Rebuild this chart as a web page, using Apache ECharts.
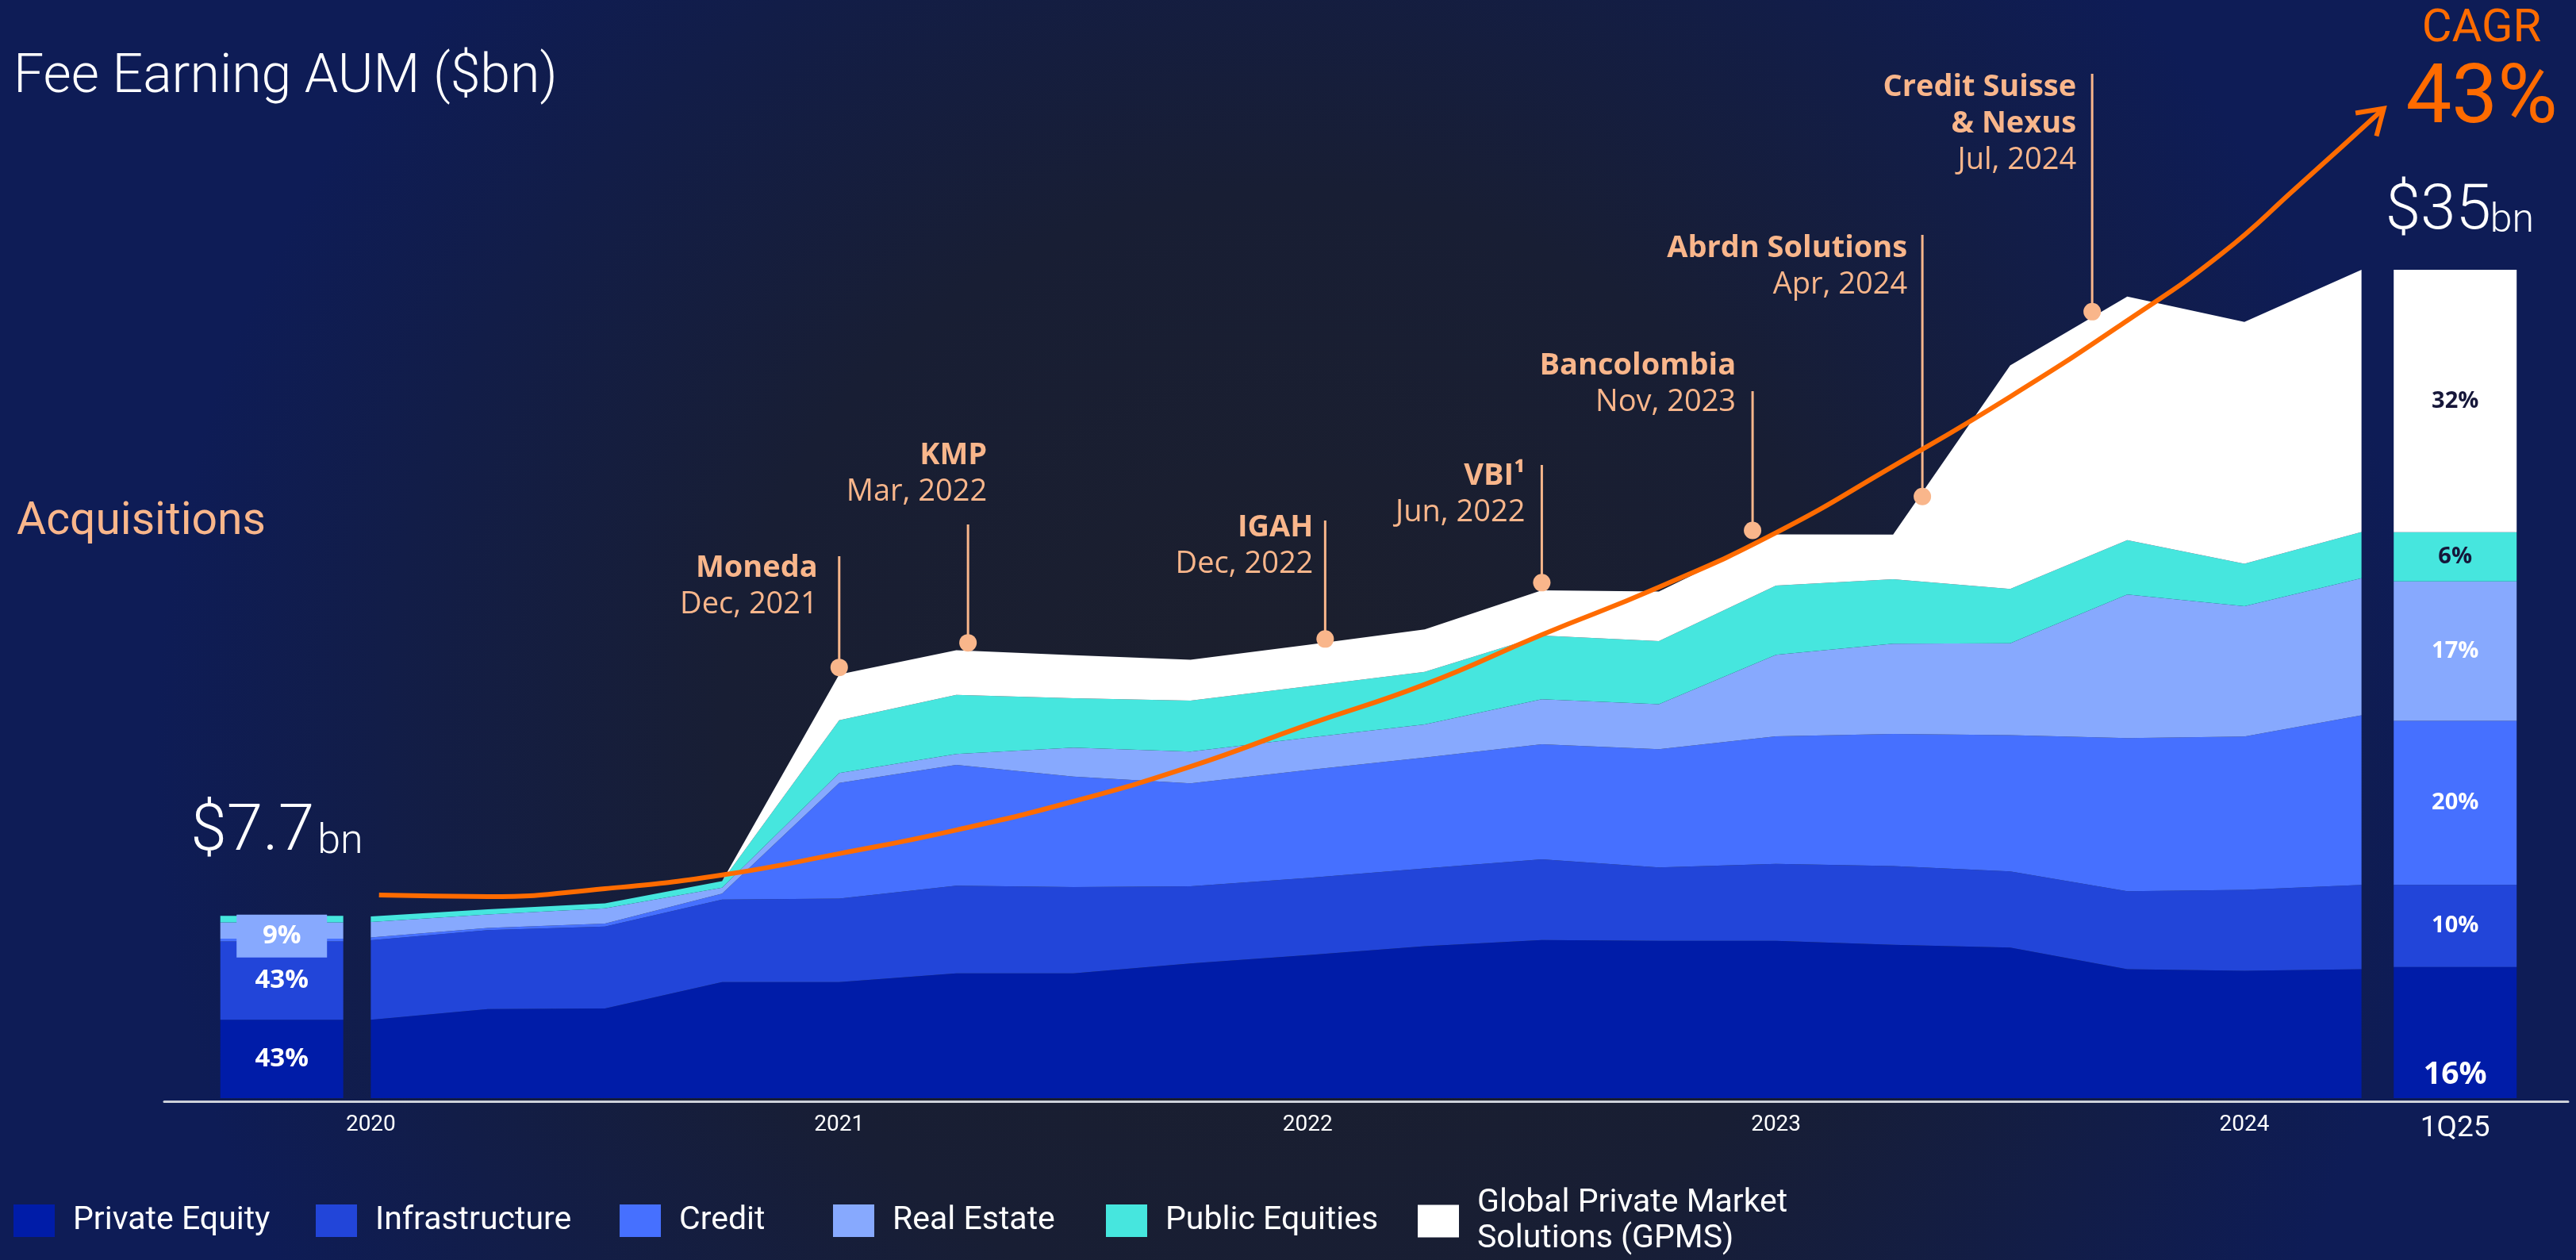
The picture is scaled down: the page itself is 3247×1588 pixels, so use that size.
<!DOCTYPE html>
<html>
<head>
<meta charset="utf-8">
<title>Fee Earning AUM</title>
<script src="https://cdn.jsdelivr.net/npm/echarts@6/dist/echarts.min.js"></script>
<style>
  html, body { margin: 0; padding: 0; background: #161d38; }
  #chart { width: 3247px; height: 1588px; }
</style>
</head>
<body>
<div id="chart"></div>
<script>
// ---------------------------------------------------------------------------
// Data ($bn). x positions are quarters: 0 = year-end 2020 ... 17 = 1Q25
// ---------------------------------------------------------------------------
const quarters = [0, 1, 2, 3, 4, 5, 6, 7, 8, 9, 10, 11, 12, 13, 14, 15, 16, 17];

const strategyNames = ['Private Equity', 'Infrastructure', 'Credit', 'Real Estate',
  'Public Equities', 'Global Private Market Solutions (GPMS)'];

const privateEquity  = [3.31, 3.76, 3.79, 4.90, 4.90, 5.27, 5.27, 5.69, 6.04, 6.42, 6.68, 6.65, 6.65, 6.48, 6.36, 5.45, 5.38, 5.45];
const infrastructure = [3.36, 3.34, 3.46, 3.49, 3.53, 3.71, 3.65, 3.26, 3.26, 3.29, 3.41, 3.10, 3.25, 3.33, 3.22, 3.29, 3.42, 3.56];
const credit         = [0.12, 0.09, 0.13, 0.25, 4.89, 5.10, 4.67, 4.35, 4.56, 4.68, 4.86, 4.99, 5.39, 5.58, 5.76, 6.47, 6.48, 7.17];
const realEstate     = [0.65, 0.57, 0.64, 0.25, 0.42, 0.46, 1.22, 1.34, 1.37, 1.40, 1.91, 1.91, 3.44, 3.81, 3.88, 6.07, 5.51, 5.79];
const publicEquities = [0.24, 0.22, 0.21, 0.28, 2.23, 2.50, 2.09, 2.16, 2.17, 2.22, 2.69, 2.66, 2.93, 2.73, 2.30, 2.30, 1.79, 1.95];
const gpms           = [0, 0, 0, 0, 1.93, 1.89, 1.82, 1.72, 1.75, 1.80, 1.91, 2.10, 2.16, 1.88, 9.44, 10.29, 10.22, 11.08];

// year ticks on the quarter scale
const yearTickValues = [0, 4, 8, 12, 16];
const yearTickLabels = ['2020', '2021', '2022', '2023', '2024'];
const latestPeriodLabel = '1Q25';

// snapshot bars: total ($bn) and mix by strategy (%)
const startTotal = 7.7;
const startMixPct = [43, 43, 1.5, 9, 3.5, 0];
const endTotal = 35;
const endMixPct = [16, 10, 20, 17, 6, 32];

// growth arrow
const cagrPct = 43;
const cagrPathX = [0.07, 1.0, 2.0, 3.0, 4.0, 5.0, 6.0, 7.0, 8.0, 9.0, 10.0, 11.0, 12.0, 13.0, 14.0, 15.0, 15.8, 16.45, 17.19];
const cagrPathY = [8.58, 8.52, 8.85, 9.43, 10.33, 11.33, 12.54, 14.01, 15.78, 17.48, 19.58, 21.59, 23.89, 26.7, 29.64, 32.86, 35.66, 38.5, 41.82];

// acquisitions: name, date, position on the quarter scale, AUM level at that point
const acqNames  = ['Moneda', 'KMP', 'IGAH', 'VBI¹', 'Bancolombia', 'Abrdn Solutions', 'Credit Suisse\n& Nexus'];
const acqDates  = ['Dec, 2021', 'Mar, 2022', 'Dec, 2022', 'Jun, 2022', 'Nov, 2023', 'Apr, 2024', 'Jul, 2024'];
const acqAt     = [4.0, 5.1, 8.15, 10.0, 11.8, 13.25, 14.7];
const acqLevel  = [18.10, 19.14, 19.30, 21.68, 23.89, 25.32, 33.13];

// ---------------------------------------------------------------------------
// Layout & styles
// ---------------------------------------------------------------------------
const layers = [privateEquity, infrastructure, credit, realEstate, publicEquities, gpms];
const colors = ['#001ca8', '#2245d9', '#4670ff', '#87a9fe', '#46e6de', '#ffffff'];
const PEACH = '#f9b68b';
const ORANGE = '#ff6b00';
const LEFT_BAR_AT = -0.76, RIGHT_BAR_AT = 17.8, BAR_WIDTH = 1.05;
const X_MIN = -1.764, X_MAX = 18.764;
const PLOT_LEFT = 207, PLOT_RIGHT = 10, PLOT_TOP = 12, PLOT_BOTTOM = 204, Y_MAX = 46;
const PX_PER_Q = (3247 - PLOT_LEFT - PLOT_RIGHT) / (X_MAX - X_MIN);

// stem tops / label anchors (px) for the acquisition call-outs
const acqLayout = [
  { stemTop: 701, dx: -27, textY: 716 },
  { stemTop: 661, dx: 24,  textY: 574 },
  { stemTop: 656, dx: -15, textY: 665 },
  { stemTop: 586, dx: -21, textY: 600 },
  { stemTop: 493, dx: -21, textY: 461 },
  { stemTop: 296, dx: -19, textY: 313 },
  { stemTop: 93,  dx: -20, textY: 110 }
];
const legendLeft = [17, 398, 781, 1050, 1394, 1787];

function txt(text, x, y, font, fill, align, extra) {
  return Object.assign({
    type: 'text',
    style: {
      text, x, y, font, fill,
      align: align, textAlign: align,
      verticalAlign: 'middle', textVerticalAlign: 'middle'
    }
  }, extra || {});
}

// ---- stacked areas (own category grid, aligned with the quarter scale) ----
const areaSeries = strategyNames.map((name, i) => ({
  name,
  type: 'line',
  xAxisIndex: 1, yAxisIndex: 1,
  stack: 'aum',
  symbol: 'none',
  color: colors[i],
  lineStyle: { width: 0 },
  areaStyle: { color: colors[i], opacity: 1 },
  emphasis: { disabled: true },
  data: layers[i],
  z: 2
}));

// ---- snapshot bars (2020 and 1Q25) ----
const barItems = [];
const barInfo = [];
function addBar(at, total, pcts, kind) {
  const sum = pcts.reduce((a, b) => a + b, 0);
  let base = 0;
  pcts.forEach((p, i) => {
    if (!p) return;
    const v = total * p / sum;
    barItems.push([at, base, base + v]);
    barInfo.push({ kind, layer: i, pct: p });
    base += v;
  });
}
addBar(LEFT_BAR_AT, startTotal, startMixPct, 'start');
addBar(RIGHT_BAR_AT, endTotal, endMixPct, 'end');

function renderBar(params, api) {
  const s = barInfo[params.dataIndex];
  const x = api.value(0), y0 = api.value(1), y1 = api.value(2);
  const a = api.coord([x - BAR_WIDTH / 2, y0]);
  const b = api.coord([x + BAR_WIDTH / 2, y1]);
  const cx = (a[0] + b[0]) / 2, cy = (a[1] + b[1]) / 2;
  const children = [{
    type: 'rect',
    shape: { x: a[0], y: b[1], width: b[0] - a[0], height: a[1] - b[1] },
    style: { fill: colors[s.layer] }
  }];
  const label = Math.round(s.pct) + '%';
  if (s.kind === 'start' && s.pct >= 5) {
    if (s.layer === 3) {
      children.push({ type: 'rect', z2: 20, shape: { x: cx - 57, y: cy + 7 - 27, width: 114, height: 54 },
        style: { fill: colors[3] } });
      children.push(txt(label, cx, cy + 7, 'bold 33px "Open Sans"', '#ffffff', 'center', { z2: 21 }));
    } else {
      children.push(txt(label, cx, cy, 'bold 33px "Open Sans"', '#ffffff', 'center', { z2: 21 }));
    }
  } else if (s.kind === 'end') {
    const dark = s.layer >= 4;
    if (s.layer === 0) {
      children.push(txt(label, cx, a[1] - 29, 'bold 39px "Open Sans"', '#ffffff', 'center', { z2: 21 }));
    } else {
      children.push(txt(label, cx, cy, 'bold 29px "Open Sans"', dark ? '#16173a' : '#ffffff', 'center', { z2: 21 }));
    }
  }
  return { type: 'group', children };
}

// ---- totals above the snapshot bars ----
const totalItems = [[LEFT_BAR_AT, startTotal], [RIGHT_BAR_AT, endTotal]];
function renderTotal(params, api) {
  const p = api.coord([api.value(0), api.value(1)]);
  const amount = '$' + api.value(1);
  if (params.dataIndex === 0) {
    const base = p[1] - 74;
    const x0 = p[0] - 115;
    return { type: 'group', children: [
      txt(amount, x0, base - 0.36 * 82, '300 82px Roboto', '#ffffff', 'left'),
      txt('bn', x0 + 160, base - 0.36 * 52, '300 52px Roboto', '#ffffff', 'left')
    ] };
  }
  const base = p[1] - 43;
  const x0 = p[0] - 88;
  return { type: 'group', children: [
    txt(amount, x0, base - 0.36 * 80, '300 80px Roboto', '#ffffff', 'left'),
    txt('bn', x0 + 132, base - 0.36 * 50, '300 50px Roboto', '#ffffff', 'left')
  ] };
}

// ---- acquisition call-outs ----
function renderAcq(params, api) {
  const i = params.dataIndex;
  const p = api.coord([api.value(0), api.value(1)]);
  const L = acqLayout[i];
  const children = [
    { type: 'line', shape: { x1: p[0], y1: p[1], x2: p[0], y2: L.stemTop },
      style: { stroke: PEACH, lineWidth: 3 } },
    { type: 'circle', shape: { cx: p[0], cy: p[1] - 3, r: 11 }, style: { fill: PEACH } }
  ];
  const lines = acqNames[i].split('\n').map(s => ({ s, bold: true }));
  lines.push({ s: acqDates[i], bold: false });
  lines.forEach((ln, k) => {
    children.push(txt(ln.s, p[0] + L.dx, L.textY + k * 46,
      (ln.bold ? '700' : '400') + ' 38px "Open Sans"', PEACH, 'right'));
  });
  return { type: 'group', children };
}

// ---- growth arrow head ----
const n = cagrPathX.length;
function renderArrowHead(params, api) {
  const tip = api.coord([api.value(0), api.value(1)]);
  const prev = api.coord([api.value(2), api.value(3)]);
  let dx = prev[0] - tip[0], dy = prev[1] - tip[1];
  const len = Math.hypot(dx, dy); dx /= len; dy /= len;
  const ang = 33 * Math.PI / 180, arm = 36;
  const rot = (t) => [tip[0] + arm * (dx * Math.cos(t) - dy * Math.sin(t)),
                      tip[1] + arm * (dx * Math.sin(t) + dy * Math.cos(t))];
  const l = rot(ang), r = rot(-ang);
  return { type: 'polyline', shape: { points: [l, tip, r] },
    style: { stroke: ORANGE, lineWidth: 6, fill: null, lineJoin: 'miter' } };
}

const chart = echarts.init(document.getElementById('chart'), null, { width: 3247, height: 1588 });

// the area grid spans exactly quarter 0 .. quarter 17 of the main scale
const areaLeft = PLOT_LEFT + (quarters[0] - X_MIN) * PX_PER_Q;
const areaRight = PLOT_RIGHT + (X_MAX - quarters[quarters.length - 1]) * PX_PER_Q;

chart.setOption({
  animation: false,
  backgroundColor: new echarts.graphic.RadialGradient(0.5, 0.6, 0.9, [
    { offset: 0, color: '#1c1f2c' },
    { offset: 0.5, color: '#181e34' },
    { offset: 0.8, color: '#121d48' },
    { offset: 1, color: '#0e1c56' }
  ]),
  textStyle: { fontFamily: 'Roboto' },
  grid: [
    { left: PLOT_LEFT, right: PLOT_RIGHT, top: PLOT_TOP, bottom: PLOT_BOTTOM },
    { left: areaLeft, right: areaRight, top: PLOT_TOP, bottom: PLOT_BOTTOM }
  ],
  xAxis: [{
    type: 'value', min: X_MIN, max: X_MAX, offset: 4, gridIndex: 0,
    axisLine: { show: true, onZero: false, lineStyle: { color: '#cdd1da', width: 3 } },
    axisTick: { show: false },
    splitLine: { show: false },
    axisLabel: {
      customValues: yearTickValues.concat([RIGHT_BAR_AT]),
      margin: 16, color: '#ffffff', fontFamily: 'Roboto', fontSize: 28, verticalAlign: 'top',
      formatter: (v) => {
        const i = yearTickValues.indexOf(v);
        return i >= 0 ? yearTickLabels[i] : '{q|' + latestPeriodLabel + '}';
      },
      rich: { q: { fontSize: 37, color: '#ffffff', fontFamily: 'Roboto', verticalAlign: 'top' } }
    }
  }, {
    type: 'category', gridIndex: 1, boundaryGap: false, data: quarters, show: false
  }],
  yAxis: [
    { type: 'value', min: 0, max: Y_MAX, show: false, gridIndex: 0 },
    { type: 'value', min: 0, max: Y_MAX, show: false, gridIndex: 1 }
  ],
  legend: strategyNames.map((name, i) => ({
    data: [name],
    left: legendLeft[i],
    top: i === 5 ? 1494 : 1518,
    padding: 0,
    icon: 'rect',
    itemWidth: 52, itemHeight: 41,
    selectedMode: false,
    formatter: (nm) => nm.replace(' Solutions', '\nSolutions'),
    textStyle: { color: '#ffffff', fontSize: 41, fontFamily: 'Roboto',
      lineHeight: i === 5 ? 45 : 41, padding: [0, 0, 0, 18] }
  })),
  graphic: [
    txt('Fee Earning AUM ($bn)', 17, 123 - 0.36 * 68, '300 68px Roboto', '#ffffff', 'left'),
    txt('Acquisitions', 21, 679 - 0.36 * 57, '400 57px Roboto', PEACH, 'left'),
    txt('CAGR', 3128, 58 - 0.36 * 58, '400 58px Roboto', ORANGE, 'center'),
    txt(cagrPct + '%', 3128, 165 - 0.36 * 103, '400 103px Roboto', ORANGE, 'center')
  ],
  series: areaSeries.concat([
    {
      name: 'mix', type: 'custom', renderItem: renderBar, data: barItems, z: 3,
      encode: { x: 0, y: [1, 2] }, silent: true
    },
    {
      name: 'totals', type: 'custom', renderItem: renderTotal, data: totalItems, z: 3,
      encode: { x: 0, y: 1 }, silent: true
    },
    {
      name: 'acquisitions', type: 'custom', renderItem: renderAcq,
      data: acqAt.map((t, i) => [t, acqLevel[i]]), z: 4, silent: true
    },
    {
      name: 'CAGR', type: 'line', smooth: 0.5, symbol: 'none', z: 6,
      lineStyle: { color: ORANGE, width: 6 }, silent: true,
      data: cagrPathX.map((x, i) => [x, cagrPathY[i]])
    },
    {
      name: 'arrow', type: 'custom', renderItem: renderArrowHead, z: 7, silent: true,
      data: [[cagrPathX[n - 1], cagrPathY[n - 1], cagrPathX[n - 2], cagrPathY[n - 2]]]
    }
  ])
});
</script>
</body>
</html>
